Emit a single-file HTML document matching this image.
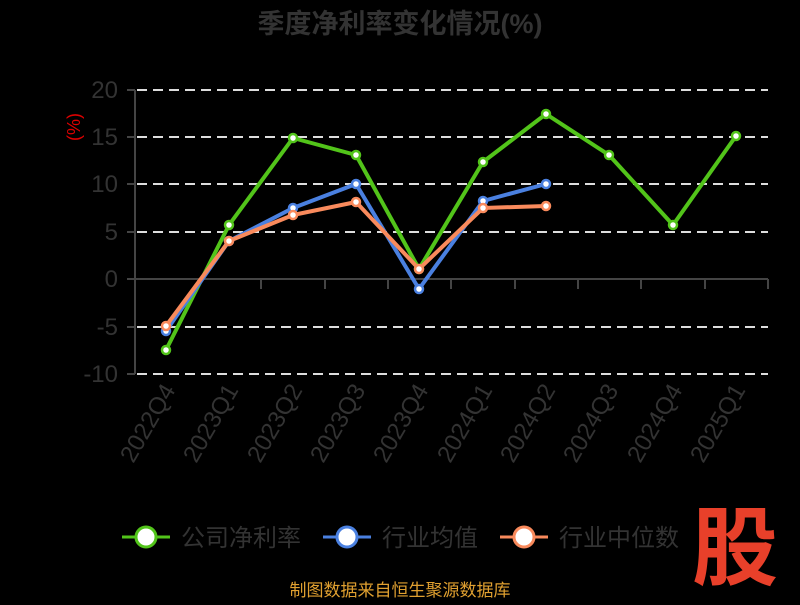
<!DOCTYPE html><html><head><meta charset="utf-8"><style>body{margin:0;background:#000}</style></head><body>
<svg width="800" height="600" xmlns="http://www.w3.org/2000/svg" font-family="Liberation Sans, Noto Sans CJK SC, sans-serif">
<rect width="800" height="600" fill="#000"/>
<text x="400" y="33" text-anchor="middle" font-size="27" font-weight="bold" fill="#333">季度净利率变化情况(%)</text>
<text x="80" y="127" text-anchor="middle" font-size="18" fill="#d00" transform="rotate(-90 80 127)">(%)</text>
<g stroke="#ddd" stroke-width="2" stroke-dasharray="10,6">
<line x1="137" x2="768" y1="90" y2="90"/><line x1="137" x2="768" y1="137" y2="137"/><line x1="137" x2="768" y1="184" y2="184"/><line x1="137" x2="768" y1="232" y2="232"/><line x1="137" x2="768" y1="327" y2="327"/><line x1="137" x2="768" y1="374" y2="374"/>
</g>
<g stroke="#444" stroke-width="2"><line x1="135" x2="135" y1="90" y2="374"/><line x1="127" x2="135" y1="90" y2="90"/><line x1="127" x2="135" y1="137" y2="137"/><line x1="127" x2="135" y1="184" y2="184"/><line x1="127" x2="135" y1="232" y2="232"/><line x1="127" x2="135" y1="279" y2="279"/><line x1="127" x2="135" y1="327" y2="327"/><line x1="127" x2="135" y1="374" y2="374"/>
<line x1="135" x2="768" y1="279" y2="279"/>
<line x1="198" x2="198" y1="279" y2="289"/><line x1="261" x2="261" y1="279" y2="289"/><line x1="325" x2="325" y1="279" y2="289"/><line x1="388" x2="388" y1="279" y2="289"/><line x1="451" x2="451" y1="279" y2="289"/><line x1="515" x2="515" y1="279" y2="289"/><line x1="578" x2="578" y1="279" y2="289"/><line x1="641" x2="641" y1="279" y2="289"/><line x1="705" x2="705" y1="279" y2="289"/><line x1="768" x2="768" y1="279" y2="289"/></g>
<g font-size="24" fill="#333" text-anchor="end"><text x="118" y="98">20</text><text x="118" y="145">15</text><text x="118" y="192">10</text><text x="118" y="240">5</text><text x="118" y="287">0</text><text x="118" y="335">-5</text><text x="118" y="382">-10</text></g>
<g font-size="24" fill="#333" text-anchor="end">
<text transform="translate(176,390) rotate(-60)">2022Q4</text><text transform="translate(239,390) rotate(-60)">2023Q1</text><text transform="translate(303,390) rotate(-60)">2023Q2</text><text transform="translate(366,390) rotate(-60)">2023Q3</text><text transform="translate(429,390) rotate(-60)">2023Q4</text><text transform="translate(493,390) rotate(-60)">2024Q1</text><text transform="translate(556,390) rotate(-60)">2024Q2</text><text transform="translate(619,390) rotate(-60)">2024Q3</text><text transform="translate(683,390) rotate(-60)">2024Q4</text><text transform="translate(746,390) rotate(-60)">2025Q1</text></g>
<g fill="none" stroke-width="4" stroke-linejoin="round">
<polyline stroke="#52c41a" points="166,350 229,225 293,138 356,155 419,269 483,162 546,114 609,155 673,225 736,136"/>
<polyline stroke="#4a80e0" points="166,331 229,241 293,208 356,184 419,289 483,201 546,184"/>
<polyline stroke="#f98a5c" points="166,326 229,241 293,215 356,202 419,269 483,208 546,206"/>
</g>
<g fill="#fff" stroke-width="2.5">
<g stroke="#52c41a"><circle cx="166" cy="350" r="4"/><circle cx="229" cy="225" r="4"/><circle cx="293" cy="138" r="4"/><circle cx="356" cy="155" r="4"/><circle cx="419" cy="269" r="4"/><circle cx="483" cy="162" r="4"/><circle cx="546" cy="114" r="4"/><circle cx="609" cy="155" r="4"/><circle cx="673" cy="225" r="4"/><circle cx="736" cy="136" r="4"/></g>
<g stroke="#4a80e0"><circle cx="166" cy="331" r="4"/><circle cx="229" cy="241" r="4"/><circle cx="293" cy="208" r="4"/><circle cx="356" cy="184" r="4"/><circle cx="419" cy="289" r="4"/><circle cx="483" cy="201" r="4"/><circle cx="546" cy="184" r="4"/></g>
<g stroke="#f98a5c"><circle cx="166" cy="326" r="4"/><circle cx="229" cy="241" r="4"/><circle cx="293" cy="215" r="4"/><circle cx="356" cy="202" r="4"/><circle cx="419" cy="269" r="4"/><circle cx="483" cy="208" r="4"/><circle cx="546" cy="206" r="4"/></g>
</g>
<g stroke-width="3"><line x1="122" x2="170" y1="537" y2="537" stroke="#52c41a"/><circle cx="146" cy="537" r="10" fill="#fff" stroke="#52c41a"/>
<line x1="323" x2="371" y1="537" y2="537" stroke="#4a80e0"/><circle cx="347" cy="537" r="10" fill="#fff" stroke="#4a80e0"/>
<line x1="500" x2="548" y1="537" y2="537" stroke="#f98a5c"/><circle cx="524" cy="537" r="10" fill="#fff" stroke="#f98a5c"/></g>
<g font-size="24" fill="#333"><text x="181" y="546">公司净利率</text><text x="382" y="546">行业均值</text><text x="559" y="546">行业中位数</text></g>
<text x="735" y="578" text-anchor="middle" font-size="86" font-weight="bold" fill="#e8402a">股</text>
<text x="400" y="596" text-anchor="middle" font-size="17" fill="#e0a030">制图数据来自恒生聚源数据库</text>
</svg></body></html>
